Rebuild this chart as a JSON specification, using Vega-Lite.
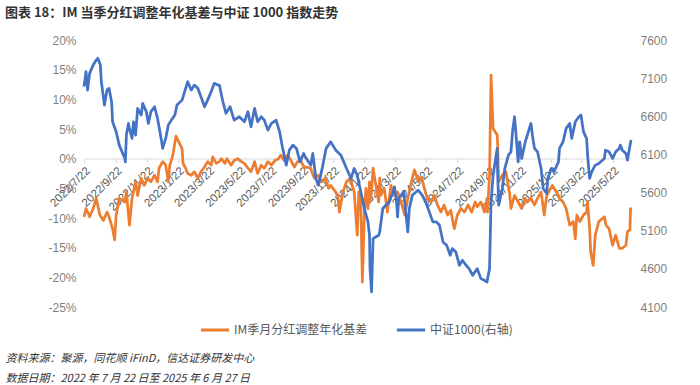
{
  "$schema": "https://vega.github.io/schema/vega-lite/v6.json",
  "width": 547,
  "height": 267,
  "autosize": {"type": "none"},
  "padding": {"left": 84, "top": 40, "right": 69, "bottom": 78},
  "background": "white",
  "title": {"text": "图表 18：IM 当季分红调整年化基差与中证 1000 指数走势", "anchor": "start", "frame": "group", "dx": -79, "offset": 14, "font": "Noto Sans CJK SC", "fontSize": 13, "fontWeight": "bold", "color": "#333333"},
  "config": {"view": {"stroke": null}, "font": "Noto Sans CJK SC"},
  "datasets": {
    "basis": [
      {"date": "2022-07-22", "v": -9.8}, {"date": "2022-07-26", "v": -8.4}, {"date": "2022-08-02", "v": -9.8}, {"date": "2022-08-09", "v": -8.4}, {"date": "2022-08-15", "v": -6.7}, {"date": "2022-08-22", "v": -9.5}, {"date": "2022-08-29", "v": -10.4}, {"date": "2022-09-05", "v": -9.0}, {"date": "2022-09-09", "v": -9.8}, {"date": "2022-09-16", "v": -11.8}, {"date": "2022-09-20", "v": -13.7}, {"date": "2022-09-23", "v": -9.5}, {"date": "2022-09-29", "v": -6.7}, {"date": "2022-10-10", "v": -7.3}, {"date": "2022-10-13", "v": -5.6}, {"date": "2022-10-19", "v": -11.2}, {"date": "2022-10-24", "v": -6.7}, {"date": "2022-10-31", "v": -3.9}, {"date": "2022-11-04", "v": -6.2}, {"date": "2022-11-11", "v": -3.3}, {"date": "2022-11-17", "v": -4.5}, {"date": "2022-11-24", "v": -3.3}, {"date": "2022-11-30", "v": -3.9}, {"date": "2022-12-07", "v": -2.8}, {"date": "2022-12-13", "v": -3.9}, {"date": "2022-12-16", "v": -1.6}, {"date": "2022-12-23", "v": -0.5}, {"date": "2022-12-29", "v": -1.1},
      {"date": "2023-01-03", "v": -3.9}, {"date": "2023-01-06", "v": -1.1}, {"date": "2023-01-12", "v": 0.6}, {"date": "2023-01-18", "v": 3.8}, {"date": "2023-01-30", "v": 1.7}, {"date": "2023-02-01", "v": -0.8}, {"date": "2023-02-06", "v": -1.6}, {"date": "2023-02-10", "v": -2.5}, {"date": "2023-02-17", "v": -2.8}, {"date": "2023-02-23", "v": -2.2}, {"date": "2023-03-02", "v": -3.3}, {"date": "2023-03-08", "v": -2.2}, {"date": "2023-03-15", "v": -1.4}, {"date": "2023-03-21", "v": -0.5}, {"date": "2023-03-28", "v": -1.1}, {"date": "2023-03-31", "v": 0.3}, {"date": "2023-04-07", "v": -0.8}, {"date": "2023-04-13", "v": -0.5}, {"date": "2023-04-17", "v": 0.0}, {"date": "2023-04-24", "v": -0.8}, {"date": "2023-04-28", "v": 0.0}, {"date": "2023-05-06", "v": -1.1}, {"date": "2023-05-12", "v": -0.3}, {"date": "2023-05-19", "v": 0.0}, {"date": "2023-05-26", "v": -0.5}, {"date": "2023-06-01", "v": -0.8}, {"date": "2023-06-08", "v": -1.6}, {"date": "2023-06-14", "v": -2.2}, {"date": "2023-06-21", "v": -0.5}, {"date": "2023-06-27", "v": -2.5}, {"date": "2023-07-04", "v": -1.1}, {"date": "2023-07-10", "v": -1.6}, {"date": "2023-07-17", "v": -0.5}, {"date": "2023-07-24", "v": -1.1}, {"date": "2023-07-31", "v": -0.3}, {"date": "2023-08-07", "v": 0.0}, {"date": "2023-08-11", "v": 0.6}, {"date": "2023-08-18", "v": -0.3}, {"date": "2023-08-25", "v": 0.6}, {"date": "2023-08-31", "v": -0.3}, {"date": "2023-09-07", "v": -1.4}, {"date": "2023-09-13", "v": -0.5}, {"date": "2023-09-20", "v": -0.5}, {"date": "2023-09-26", "v": -1.4}, {"date": "2023-10-09", "v": -1.6}, {"date": "2023-10-11", "v": -2.2}, {"date": "2023-10-16", "v": -3.3}, {"date": "2023-10-23", "v": -2.8}, {"date": "2023-10-30", "v": -3.9}, {"date": "2023-11-06", "v": -3.3}, {"date": "2023-11-13", "v": -5.0}, {"date": "2023-11-17", "v": -4.5}, {"date": "2023-11-24", "v": -5.3}, {"date": "2023-12-01", "v": -6.2}, {"date": "2023-12-04", "v": -9.0}, {"date": "2023-12-11", "v": -5.6}, {"date": "2023-12-18", "v": -3.9}, {"date": "2023-12-25", "v": -3.3},
      {"date": "2024-01-02", "v": -5.6}, {"date": "2024-01-08", "v": -12.9}, {"date": "2024-01-11", "v": -5.6}, {"date": "2024-01-15", "v": -7.3}, {"date": "2024-01-18", "v": -20.8}, {"date": "2024-01-22", "v": -9.0}, {"date": "2024-01-25", "v": -5.0}, {"date": "2024-01-29", "v": -8.4}, {"date": "2024-02-01", "v": -3.9}, {"date": "2024-02-02", "v": -7.3}, {"date": "2024-02-05", "v": -5.6}, {"date": "2024-02-08", "v": -1.6}, {"date": "2024-02-19", "v": -7.3}, {"date": "2024-02-21", "v": -3.3}, {"date": "2024-02-23", "v": -6.2}, {"date": "2024-03-01", "v": -5.0}, {"date": "2024-03-07", "v": -9.0}, {"date": "2024-03-14", "v": -4.5}, {"date": "2024-03-21", "v": -6.2}, {"date": "2024-03-27", "v": -5.6}, {"date": "2024-04-03", "v": -7.3}, {"date": "2024-04-10", "v": -9.5}, {"date": "2024-04-16", "v": -6.7}, {"date": "2024-04-23", "v": -3.9}, {"date": "2024-04-29", "v": -1.9}, {"date": "2024-05-07", "v": -3.9}, {"date": "2024-05-13", "v": -3.1}, {"date": "2024-05-17", "v": -4.5}, {"date": "2024-05-24", "v": -6.7}, {"date": "2024-05-31", "v": -7.3}, {"date": "2024-06-07", "v": -6.2}, {"date": "2024-06-13", "v": -7.8}, {"date": "2024-06-20", "v": -9.0}, {"date": "2024-06-26", "v": -7.8}, {"date": "2024-07-03", "v": -9.5}, {"date": "2024-07-09", "v": -8.7}, {"date": "2024-07-16", "v": -11.8}, {"date": "2024-07-22", "v": -9.5}, {"date": "2024-07-29", "v": -8.4}, {"date": "2024-08-05", "v": -9.0}, {"date": "2024-08-12", "v": -7.8}, {"date": "2024-08-19", "v": -9.0}, {"date": "2024-08-26", "v": -7.3}, {"date": "2024-08-30", "v": -8.1}, {"date": "2024-09-06", "v": -7.3}, {"date": "2024-09-13", "v": -9.0}, {"date": "2024-09-18", "v": -6.7}, {"date": "2024-09-19", "v": -9.0}, {"date": "2024-09-23", "v": -2.8}, {"date": "2024-09-26", "v": 14.1}, {"date": "2024-09-30", "v": 5.1}, {"date": "2024-10-08", "v": 4.0}, {"date": "2024-10-09", "v": 2.3}, {"date": "2024-10-10", "v": -1.6}, {"date": "2024-10-11", "v": -3.9}, {"date": "2024-10-18", "v": -2.8}, {"date": "2024-10-25", "v": -2.2}, {"date": "2024-11-01", "v": -5.6}, {"date": "2024-11-04", "v": -8.4}, {"date": "2024-11-11", "v": -6.2}, {"date": "2024-11-18", "v": -7.3}, {"date": "2024-11-25", "v": -8.4}, {"date": "2024-12-02", "v": -6.7}, {"date": "2024-12-06", "v": -7.3}, {"date": "2024-12-13", "v": -6.7}, {"date": "2024-12-20", "v": -7.8}, {"date": "2024-12-26", "v": -6.7},
      {"date": "2025-01-02", "v": -5.6}, {"date": "2025-01-08", "v": -9.5}, {"date": "2025-01-13", "v": -6.2}, {"date": "2025-01-17", "v": -5.6}, {"date": "2025-01-24", "v": -4.5}, {"date": "2025-02-05", "v": -6.2}, {"date": "2025-02-07", "v": -6.7}, {"date": "2025-02-14", "v": -7.3}, {"date": "2025-02-20", "v": -8.4}, {"date": "2025-02-27", "v": -11.2}, {"date": "2025-03-06", "v": -10.6}, {"date": "2025-03-10", "v": -13.5}, {"date": "2025-03-13", "v": -9.5}, {"date": "2025-03-19", "v": -10.6}, {"date": "2025-03-26", "v": -9.5}, {"date": "2025-04-01", "v": -9.0}, {"date": "2025-04-03", "v": -7.3}, {"date": "2025-04-07", "v": -11.8}, {"date": "2025-04-09", "v": -15.7}, {"date": "2025-04-14", "v": -18.0}, {"date": "2025-04-18", "v": -12.9}, {"date": "2025-04-25", "v": -10.6}, {"date": "2025-05-06", "v": -9.8}, {"date": "2025-05-09", "v": -11.2}, {"date": "2025-05-15", "v": -11.8}, {"date": "2025-05-22", "v": -14.6}, {"date": "2025-05-28", "v": -12.9}, {"date": "2025-06-04", "v": -15.1}, {"date": "2025-06-10", "v": -15.1}, {"date": "2025-06-17", "v": -14.6}, {"date": "2025-06-20", "v": -12.3}, {"date": "2025-06-25", "v": -12.0}, {"date": "2025-06-26", "v": -8.4}, {"date": "2025-06-27", "v": -9.0}
    ],
    "idx": [
      {"date": "2022-07-22", "v": 6990}, {"date": "2022-07-26", "v": 7184}, {"date": "2022-07-29", "v": 6944}, {"date": "2022-08-02", "v": 7163}, {"date": "2022-08-09", "v": 7272}, {"date": "2022-08-15", "v": 7337}, {"date": "2022-08-18", "v": 7360}, {"date": "2022-08-23", "v": 7272}, {"date": "2022-08-25", "v": 7053}, {"date": "2022-08-31", "v": 6747}, {"date": "2022-09-05", "v": 6944}, {"date": "2022-09-09", "v": 6966}, {"date": "2022-09-14", "v": 6790}, {"date": "2022-09-16", "v": 6528}, {"date": "2022-09-23", "v": 6397}, {"date": "2022-09-29", "v": 6222}, {"date": "2022-10-10", "v": 6047}, {"date": "2022-10-11", "v": 6003}, {"date": "2022-10-13", "v": 6353}, {"date": "2022-10-17", "v": 6506}, {"date": "2022-10-19", "v": 6441}, {"date": "2022-10-24", "v": 6310}, {"date": "2022-10-27", "v": 6528}, {"date": "2022-10-31", "v": 6353}, {"date": "2022-11-04", "v": 6703}, {"date": "2022-11-11", "v": 6616}, {"date": "2022-11-14", "v": 6769}, {"date": "2022-11-21", "v": 6660}, {"date": "2022-11-25", "v": 6506}, {"date": "2022-11-30", "v": 6660}, {"date": "2022-12-07", "v": 6725}, {"date": "2022-12-13", "v": 6572}, {"date": "2022-12-20", "v": 6310}, {"date": "2022-12-23", "v": 6179}, {"date": "2022-12-29", "v": 6310},
      {"date": "2023-01-03", "v": 6484}, {"date": "2023-01-09", "v": 6550}, {"date": "2023-01-16", "v": 6616}, {"date": "2023-01-20", "v": 6747}, {"date": "2023-01-30", "v": 6812}, {"date": "2023-02-06", "v": 6966}, {"date": "2023-02-10", "v": 7053}, {"date": "2023-02-17", "v": 6944}, {"date": "2023-02-23", "v": 7009}, {"date": "2023-03-02", "v": 6966}, {"date": "2023-03-08", "v": 6856}, {"date": "2023-03-15", "v": 6725}, {"date": "2023-03-21", "v": 6812}, {"date": "2023-03-28", "v": 6922}, {"date": "2023-04-03", "v": 7032}, {"date": "2023-04-10", "v": 7009}, {"date": "2023-04-13", "v": 7009}, {"date": "2023-04-20", "v": 6790}, {"date": "2023-04-26", "v": 6638}, {"date": "2023-05-04", "v": 6725}, {"date": "2023-05-12", "v": 6550}, {"date": "2023-05-22", "v": 6594}, {"date": "2023-06-01", "v": 6528}, {"date": "2023-06-08", "v": 6660}, {"date": "2023-06-14", "v": 6462}, {"date": "2023-06-21", "v": 6703}, {"date": "2023-06-27", "v": 6528}, {"date": "2023-07-04", "v": 6594}, {"date": "2023-07-10", "v": 6550}, {"date": "2023-07-17", "v": 6419}, {"date": "2023-07-24", "v": 6506}, {"date": "2023-08-02", "v": 6550}, {"date": "2023-08-09", "v": 6397}, {"date": "2023-08-15", "v": 6179}, {"date": "2023-08-22", "v": 5959}, {"date": "2023-08-28", "v": 6156}, {"date": "2023-09-04", "v": 6222}, {"date": "2023-09-11", "v": 6179}, {"date": "2023-09-18", "v": 6003}, {"date": "2023-09-25", "v": 6113}, {"date": "2023-09-28", "v": 6069}, {"date": "2023-10-09", "v": 5959}, {"date": "2023-10-13", "v": 6113}, {"date": "2023-10-19", "v": 5785}, {"date": "2023-10-24", "v": 5697}, {"date": "2023-11-01", "v": 5937}, {"date": "2023-11-08", "v": 6179}, {"date": "2023-11-17", "v": 6266}, {"date": "2023-11-27", "v": 6156}, {"date": "2023-12-07", "v": 6091}, {"date": "2023-12-18", "v": 5916}, {"date": "2023-12-27", "v": 5785},
      {"date": "2024-01-02", "v": 5916}, {"date": "2024-01-08", "v": 5828}, {"date": "2024-01-15", "v": 5609}, {"date": "2024-01-22", "v": 5391}, {"date": "2024-01-29", "v": 5216}, {"date": "2024-02-01", "v": 5041}, {"date": "2024-02-02", "v": 4603}, {"date": "2024-02-05", "v": 4297}, {"date": "2024-02-08", "v": 4997}, {"date": "2024-02-19", "v": 5041}, {"date": "2024-02-21", "v": 5084}, {"date": "2024-02-27", "v": 5391}, {"date": "2024-03-04", "v": 5434}, {"date": "2024-03-11", "v": 5478}, {"date": "2024-03-18", "v": 5609}, {"date": "2024-03-21", "v": 5675}, {"date": "2024-03-25", "v": 5478}, {"date": "2024-03-27", "v": 5281}, {"date": "2024-03-29", "v": 5522}, {"date": "2024-04-08", "v": 5609}, {"date": "2024-04-12", "v": 5347}, {"date": "2024-04-16", "v": 5084}, {"date": "2024-04-19", "v": 5391}, {"date": "2024-04-25", "v": 5566}, {"date": "2024-05-06", "v": 5631}, {"date": "2024-05-09", "v": 5609}, {"date": "2024-05-14", "v": 5566}, {"date": "2024-05-21", "v": 5478}, {"date": "2024-05-28", "v": 5347}, {"date": "2024-06-04", "v": 5216}, {"date": "2024-06-11", "v": 5216}, {"date": "2024-06-17", "v": 5172}, {"date": "2024-06-24", "v": 4953}, {"date": "2024-07-01", "v": 4910}, {"date": "2024-07-08", "v": 4778}, {"date": "2024-07-12", "v": 4866}, {"date": "2024-07-19", "v": 4822}, {"date": "2024-07-26", "v": 4647}, {"date": "2024-08-01", "v": 4712}, {"date": "2024-08-08", "v": 4647}, {"date": "2024-08-14", "v": 4603}, {"date": "2024-08-21", "v": 4516}, {"date": "2024-08-30", "v": 4603}, {"date": "2024-09-06", "v": 4472}, {"date": "2024-09-13", "v": 4450}, {"date": "2024-09-18", "v": 4428}, {"date": "2024-09-23", "v": 4603}, {"date": "2024-09-26", "v": 5478}, {"date": "2024-09-30", "v": 5828}, {"date": "2024-10-08", "v": 6179}, {"date": "2024-10-09", "v": 5828}, {"date": "2024-10-11", "v": 5434}, {"date": "2024-10-18", "v": 5653}, {"date": "2024-10-23", "v": 5916}, {"date": "2024-10-30", "v": 6091}, {"date": "2024-11-04", "v": 6134}, {"date": "2024-11-07", "v": 6397}, {"date": "2024-11-11", "v": 6594}, {"date": "2024-11-14", "v": 6353}, {"date": "2024-11-18", "v": 6003}, {"date": "2024-11-21", "v": 6266}, {"date": "2024-11-25", "v": 6047}, {"date": "2024-12-02", "v": 6266}, {"date": "2024-12-06", "v": 6353}, {"date": "2024-12-13", "v": 6506}, {"date": "2024-12-16", "v": 6353}, {"date": "2024-12-20", "v": 6179}, {"date": "2024-12-26", "v": 6134},
      {"date": "2025-01-02", "v": 5916}, {"date": "2025-01-06", "v": 5653}, {"date": "2025-01-13", "v": 5588}, {"date": "2025-01-15", "v": 5785}, {"date": "2025-01-22", "v": 5916}, {"date": "2025-01-27", "v": 5872}, {"date": "2025-02-05", "v": 6003}, {"date": "2025-02-07", "v": 6179}, {"date": "2025-02-14", "v": 6266}, {"date": "2025-02-20", "v": 6441}, {"date": "2025-02-27", "v": 6506}, {"date": "2025-03-03", "v": 6310}, {"date": "2025-03-10", "v": 6528}, {"date": "2025-03-17", "v": 6594}, {"date": "2025-03-21", "v": 6616}, {"date": "2025-03-26", "v": 6397}, {"date": "2025-04-01", "v": 6310}, {"date": "2025-04-03", "v": 6091}, {"date": "2025-04-07", "v": 5785}, {"date": "2025-04-11", "v": 5872}, {"date": "2025-04-18", "v": 5959}, {"date": "2025-04-25", "v": 5981}, {"date": "2025-05-06", "v": 6047}, {"date": "2025-05-08", "v": 6156}, {"date": "2025-05-15", "v": 6134}, {"date": "2025-05-22", "v": 6047}, {"date": "2025-05-28", "v": 6134}, {"date": "2025-06-04", "v": 6179}, {"date": "2025-06-06", "v": 6222}, {"date": "2025-06-10", "v": 6156}, {"date": "2025-06-17", "v": 6113}, {"date": "2025-06-20", "v": 6025}, {"date": "2025-06-24", "v": 6179}, {"date": "2025-06-27", "v": 6288}
    ]
  },
  "layer": [
    {
      "data": {"name": "basis"},
      "mark": {"type": "line", "strokeWidth": 2.75, "strokeJoin": "round"},
      "encoding": {
        "x": {
          "field": "date", "type": "temporal",
          "scale": {"type": "utc", "domain": [{"year": 2022, "month": 7, "date": 22, "utc": true}, {"year": 2025, "month": 6, "date": 27, "utc": true}]},
          "axis": {
            "orient": "bottom", "offset": -148.5, "title": null, "grid": false,
            "values": [
              {"year": 2022, "month": 7, "date": 22, "utc": true}, {"year": 2022, "month": 9, "date": 22, "utc": true}, {"year": 2022, "month": 11, "date": 22, "utc": true},
              {"year": 2023, "month": 1, "date": 22, "utc": true}, {"year": 2023, "month": 3, "date": 22, "utc": true}, {"year": 2023, "month": 5, "date": 22, "utc": true}, {"year": 2023, "month": 7, "date": 22, "utc": true}, {"year": 2023, "month": 9, "date": 22, "utc": true}, {"year": 2023, "month": 11, "date": 22, "utc": true},
              {"year": 2024, "month": 1, "date": 22, "utc": true}, {"year": 2024, "month": 3, "date": 22, "utc": true}, {"year": 2024, "month": 5, "date": 22, "utc": true}, {"year": 2024, "month": 7, "date": 22, "utc": true}, {"year": 2024, "month": 9, "date": 22, "utc": true}, {"year": 2024, "month": 11, "date": 22, "utc": true},
              {"year": 2025, "month": 1, "date": 22, "utc": true}, {"year": 2025, "month": 3, "date": 22, "utc": true}, {"year": 2025, "month": 5, "date": 22, "utc": true}
            ],
            "format": "%Y/%-m/%-d", "labelAngle": -45, "labelAlign": "right", "labelBaseline": "top", "labelPadding": 2,
            "labelOverlap": false, "labelFlush": false, "labelBound": false,
            "labelFont": "Liberation Sans", "labelFontSize": 11.5, "labelColor": "#595959",
            "domainColor": "#d9d9d9", "domainWidth": 1, "tickColor": "#d9d9d9", "tickSize": 4
          }
        },
        "y": {
          "field": "v", "type": "quantitative",
          "scale": {"domain": [-25, 20], "nice": false, "zero": false},
          "axis": {"orient": "left", "title": null, "values": [-25, -20, -15, -10, -5, 0, 5, 10, 15, 20], "labelExpr": "datum.value + '%'", "domain": false, "ticks": false, "grid": false, "labelPadding": 8, "labelFont": "Liberation Sans", "labelFontSize": 12, "labelColor": "#7f7f7f"}
        },
        "color": {
          "datum": "IM季月分红调整年化基差", "type": "nominal",
          "scale": {"domain": ["IM季月分红调整年化基差", "中证1000(右轴)"], "range": ["#ED7D31", "#4472C4"]},
          "legend": {"orient": "none", "legendX": 115, "legendY": 274, "direction": "horizontal", "title": null, "symbolType": "stroke", "symbolStrokeWidth": 3, "symbolSize": 800, "labelFont": "Noto Sans CJK SC", "labelFontSize": 12, "labelColor": "#595959", "columnPadding": 22, "labelOffset": 3}
        }
      }
    },
    {
      "data": {"name": "idx"},
      "mark": {"type": "line", "strokeWidth": 2.75, "strokeJoin": "round"},
      "encoding": {
        "x": {
          "field": "date", "type": "temporal",
          "axis": {
            "orient": "bottom", "labels": false, "ticks": false, "domain": false, "grid": false,
            "title": ["资料来源：聚源，同花顺 iFinD，信达证券研发中心", "数据日期：2022 年 7 月 22 日至 2025 年 6 月 27 日"],
            "titleAnchor": "start", "titleAlign": "left", "titleBaseline": "middle", "titleX": -79, "titleY": 51,
            "titleFont": "Noto Sans CJK SC", "titleFontSize": 11, "titleFontWeight": "normal", "titleFontStyle": "italic", "titleColor": "#333333", "titleLineHeight": 20
          }
        },
        "y": {
          "field": "v", "type": "quantitative",
          "scale": {"domain": [4100, 7600], "nice": false, "zero": false},
          "axis": {"orient": "right", "title": null, "values": [4100, 4600, 5100, 5600, 6100, 6600, 7100, 7600], "format": "d", "domain": false, "ticks": false, "grid": false, "labelPadding": 9, "labelFont": "Liberation Sans", "labelFontSize": 12, "labelColor": "#7f7f7f"}
        },
        "color": {"datum": "中证1000(右轴)", "type": "nominal"}
      }
    }
  ],
  "resolve": {"scale": {"y": "independent"}, "axis": {"x": "independent"}}
}
